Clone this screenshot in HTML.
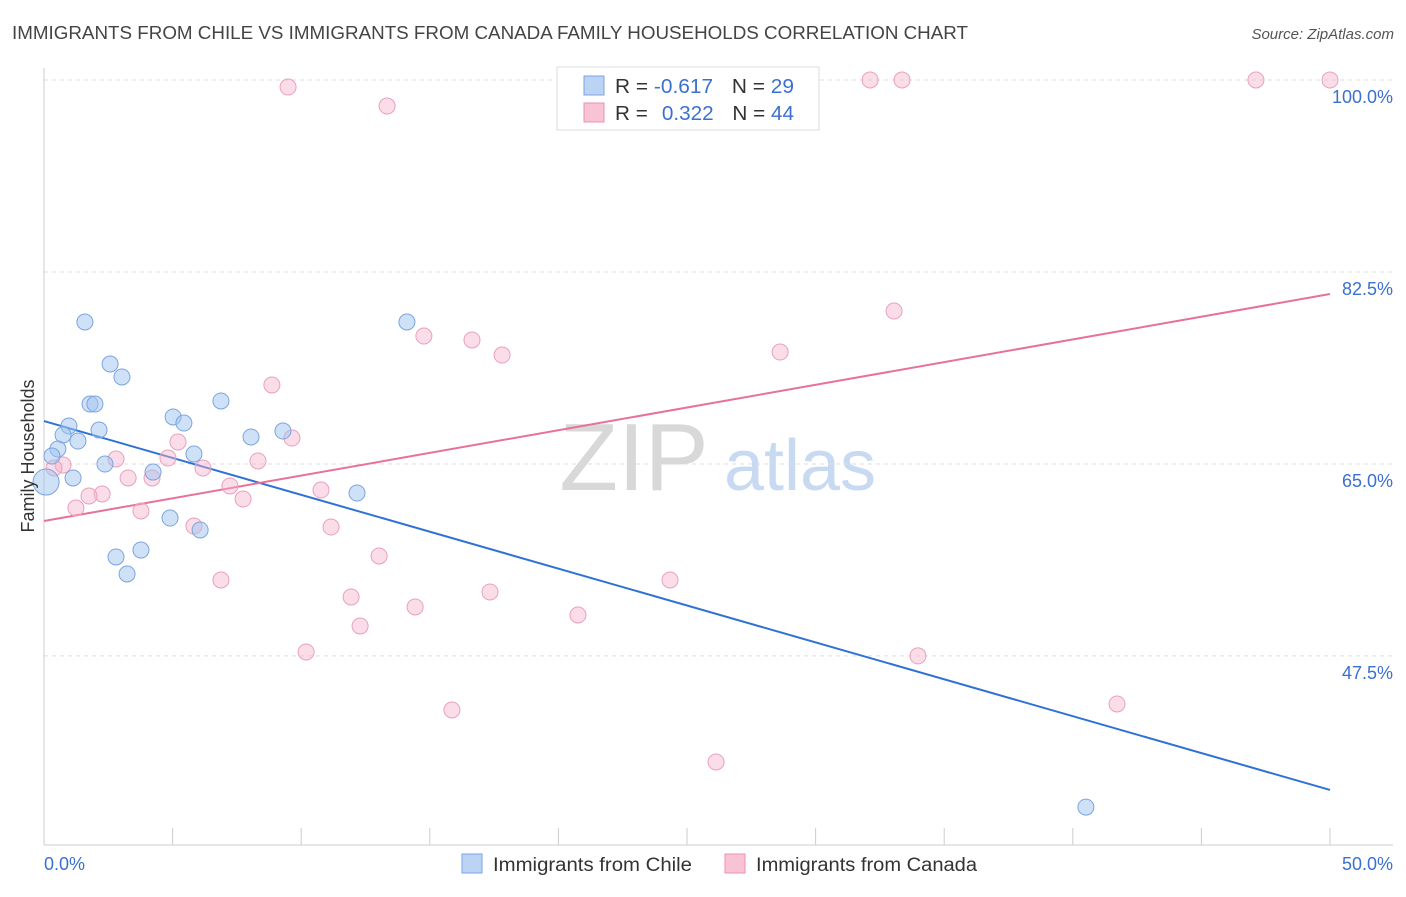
<!DOCTYPE html>
<html><head><meta charset="utf-8">
<style>
body{margin:0;background:#fff;font-family:"Liberation Sans",sans-serif;}
svg text{font-family:"Liberation Sans",sans-serif;}
</style></head>
<body>
<svg id="chart" width="1406" height="892" viewBox="0 0 1406 892" xmlns="http://www.w3.org/2000/svg">
<text x="12" y="39" font-size="18" fill="#444" textLength="956" lengthAdjust="spacingAndGlyphs">IMMIGRANTS FROM CHILE VS IMMIGRANTS FROM CANADA FAMILY HOUSEHOLDS CORRELATION CHART</text>
<text x="1394" y="39" font-size="15" fill="#555" text-anchor="end" font-style="italic">Source: ZipAtlas.com</text>
<g>
<text x="634" y="490" font-size="96" fill="#d8d8d8" text-anchor="middle" font-family="Liberation Serif, serif">ZIP</text>
<text x="800" y="490" font-size="72" fill="#c8daf2" text-anchor="middle">atlas</text>
</g>
<g id="grid"></g>
<g id="axes"></g>
<g id="lines"></g>
<g id="pts"></g>
<text transform="translate(34,456) rotate(-90)" font-size="18" fill="#333" text-anchor="middle">Family Households</text>
<g>
<rect x="557" y="67" width="262" height="63" fill="#fff" stroke="#ddd"/>
<rect x="584" y="76" width="20" height="19" fill="#bcd4f4" stroke="#7aa5e0"/>
<rect x="584" y="103" width="20" height="19" fill="#f8c4d4" stroke="#e890b0"/>
<text x="615" y="93" font-size="20" fill="#333" textLength="179" lengthAdjust="spacingAndGlyphs">R = <tspan fill="#3a70d0">-0.617</tspan><tspan dx="18">N = </tspan><tspan fill="#3a70d0">29</tspan></text>
<text x="615" y="120" font-size="20" fill="#333" textLength="179" lengthAdjust="spacingAndGlyphs">R = <tspan dx="8" fill="#3a70d0">0.322</tspan><tspan dx="18">N = </tspan><tspan fill="#3a70d0">44</tspan></text>
</g>
<g>
<rect x="462" y="854" width="20" height="19" fill="#bcd4f4" stroke="#7aa5e0"/>
<text x="493" y="871" font-size="19" fill="#333" textLength="199" lengthAdjust="spacingAndGlyphs">Immigrants from Chile</text>
<rect x="725" y="854" width="20" height="19" fill="#f8c4d4" stroke="#e890b0"/>
<text x="756" y="871" font-size="19" fill="#333" textLength="221" lengthAdjust="spacingAndGlyphs">Immigrants from Canada</text>
</g>
</svg>
<script>
const chileX=[1.59,2.57,3.03,1.79,1.98,0.97,0.74,2.14,1.32,0.54,0.31,1.13,2.37,0.08,2.80,3.23,3.77,4.24,4.90,5.02,5.44,5.83,6.07,6.88,8.05,9.29,12.17,14.11,40.51];
const chileY=[77.94,74.11,72.93,70.46,70.46,68.46,67.64,68.09,67.09,66.36,65.72,63.72,64.99,63.35,56.52,54.97,57.15,64.26,60.07,69.28,68.73,65.91,58.98,70.74,67.46,68.00,62.35,77.94,33.72];
const canadaX=[9.49,13.34,32.12,33.36,47.12,50.0,33.05,14.77,16.64,17.81,28.62,8.86,9.64,5.21,4.82,2.80,8.32,6.18,0.74,0.39,3.27,4.20,7.23,10.77,7.74,2.26,1.75,1.24,3.77,5.83,11.16,13.03,6.88,24.34,11.94,17.34,14.43,20.76,12.29,10.19,33.98,15.86,41.72,26.13];
const canadaY=[99.36,97.63,100,100,100,100,78.94,76.66,76.30,74.93,75.20,72.20,67.36,67.00,65.54,65.45,65.27,64.63,64.90,64.63,63.72,63.72,62.99,62.62,61.80,62.26,62.08,60.98,60.71,59.34,59.25,56.61,54.42,54.42,52.87,53.33,51.96,51.23,50.23,47.86,47.50,42.57,43.12,37.83];
const chileTrend=[68.91,35.28];
const canadaTrend=[59.80,80.49];
const yTicks=[100,82.5,65,47.5];
const yTickLabels=["100.0%","82.5%","65.0%","47.5%"];
const xLabels=["0.0%","50.0%"];
const NS="http://www.w3.org/2000/svg";
const X=v=>44+v/50*1286;
const Y=v=>80+(100-v)/0.09116;
function mk(tag,attrs,parent){const e=document.createElementNS(NS,tag);for(const k in attrs)e.setAttribute(k,attrs[k]);parent.appendChild(e);return e;}
const grid=document.getElementById('grid'),axes=document.getElementById('axes'),lines=document.getElementById('lines'),pts=document.getElementById('pts');
yTicks.forEach((t,i)=>{
 const l=mk('line',{x1:44,x2:1393,y1:Y(t),y2:Y(t),stroke:'#ddd','stroke-dasharray':'4,4'},grid);
 
 
 const tx=mk('text',{x:1393,y:Y(t)+23,'font-size':18,fill:'#3a70d0','text-anchor':'end'},axes);
 tx.textContent=yTickLabels[i];
 
 
});
mk('line',{x1:44,x2:44,y1:68,y2:845,stroke:'#ccc'},axes);
mk('line',{x1:44,x2:1393,y1:845,y2:845,stroke:'#ccc'},axes);
for(let i=0;i<=10;i++){const t=mk('line',{x1:X(i*5),x2:X(i*5),y1:828,y2:845,stroke:'#ccc'},axes);
 
 }
const xl0=mk('text',{x:44,y:870,'font-size':18,fill:'#3a70d0'},axes);xl0.textContent=xLabels[0];


const xl1=mk('text',{x:1393,y:870,'font-size':18,fill:'#3a70d0','text-anchor':'end'},axes);xl1.textContent=xLabels[1];


canadaX.forEach((x,i)=>{const c=mk('circle',{cx:X(x),cy:Y(canadaY[i]),r:8,fill:'rgba(245,180,204,0.45)',stroke:'#eba0bb','stroke-width':1},pts);
 
 });
chileX.forEach((x,i)=>{const c=mk('circle',{cx:X(x),cy:Y(chileY[i]),r:i===13?13:8,fill:'rgba(160,195,240,0.5)',stroke:'#7aa5e0','stroke-width':1},pts);
 
 });
const bl=mk('line',{x1:X(0),y1:Y(chileTrend[0]),x2:X(50),y2:Y(chileTrend[1]),stroke:'#2f72d6','stroke-width':2},lines);


const pl=mk('line',{x1:X(0),y1:Y(canadaTrend[0]),x2:X(50),y2:Y(canadaTrend[1]),stroke:'#e8709a','stroke-width':2},lines);


</script>
</body></html>
